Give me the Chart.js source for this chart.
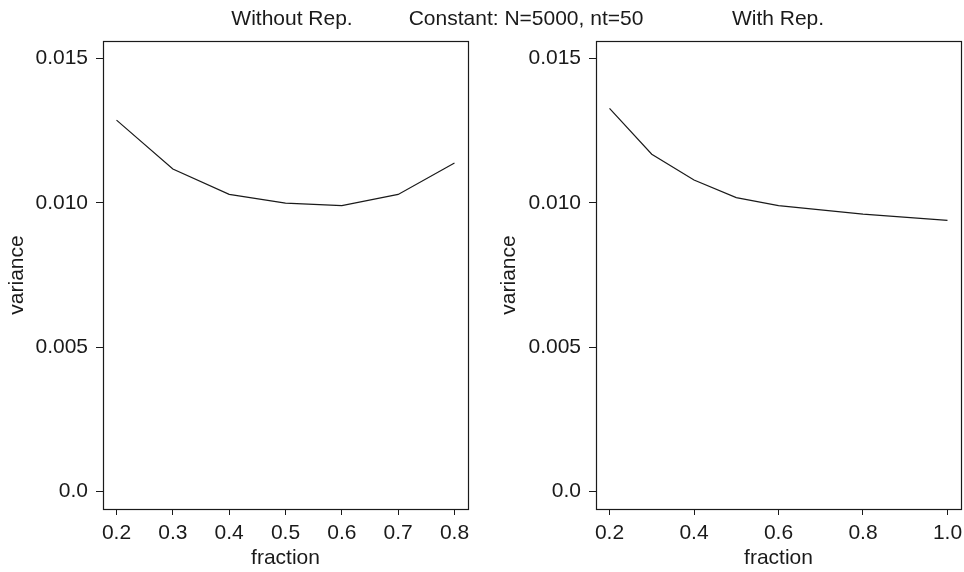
<!DOCTYPE html>
<html>
<head>
<meta charset="utf-8">
<script src="https://cdn.jsdelivr.net/npm/chart.js@4"></script>
<style>
	body { margin: 0; background: #fff; }
	#wrap { position: relative; width: 964px; height: 572px; overflow: hidden; }
	canvas { position: absolute; top: 0; }
	.ttl { position: absolute; top: 4px; font: 21px 'Liberation Sans', Arial, sans-serif; color: #1a1a1a;
		line-height: 28px; white-space: nowrap; transform: translateX(-50%); }
</style>
</head>
<body>
<div id="wrap">
	<canvas id="leftChart" width="482" height="572" style="left:0"></canvas>
	<canvas id="rightChart" width="482" height="572" style="left:482px"></canvas>
	<div class="ttl" style="left:292px">Without Rep.</div>
	<div class="ttl" style="left:526px">Constant: N=5000, nt=50</div>
	<div class="ttl" style="left:778px">With Rep.</div>
</div>
<script>
// 왼쪽 (Without Rep.) 데이터
var leftFraction = [0.2, 0.3, 0.4, 0.5, 0.6, 0.7, 0.8];
var leftVariance = [0.01286, 0.01117, 0.01029, 0.00999, 0.00990, 0.01029, 0.01138];
var leftXTicks = [0.2, 0.3, 0.4, 0.5, 0.6, 0.7, 0.8];
var leftXTickLabels = ['0.2', '0.3', '0.4', '0.5', '0.6', '0.7', '0.8'];

// 오른쪽 (With Rep.) 데이터
var rightFraction = [0.2, 0.3, 0.4, 0.5, 0.6, 0.8, 1.0];
var rightVariance = [0.01327, 0.01168, 0.01079, 0.01018, 0.00990, 0.00961, 0.00939];
var rightXTicks = [0.2, 0.4, 0.6, 0.8, 1.0];
var rightXTickLabels = ['0.2', '0.4', '0.6', '0.8', '1.0'];

// 공통 y축
var yTicks = [0, 0.005, 0.010, 0.015];
var yTickLabels = ['0.0', '0.005', '0.010', '0.015'];

var ink = '#1a1a1a';
Chart.defaults.font.family = "'Liberation Sans', Arial, sans-serif";
Chart.defaults.font.size = 21;
Chart.defaults.color = ink;

// 플롯 영역 테두리 (R 스타일 box)
var boxPlugin = {
	id : 'box',
	afterDraw : function(chart) {
		var a = chart.chartArea;
		var ctx = chart.ctx;
		ctx.save();
		ctx.strokeStyle = ink;
		ctx.lineWidth = 1.2;
		ctx.strokeRect(Math.round(a.left) + 0.5, Math.round(a.top) + 0.5,
				Math.round(a.right - a.left), Math.round(a.bottom - a.top));
		ctx.restore();
	}
};

// R 기본값처럼 범위를 4% 늘림
function padRange(lo, hi) {
	var d = (hi - lo) * 0.04;
	return [lo - d, hi + d];
}

function makeChart(id, xs, ys, xTicks, xLabels, yWidth, rightPad, yTitlePad) {
	var xr = padRange(xTicks[0], xTicks[xTicks.length - 1]);
	var yr = padRange(0, 0.015);
	var points = xs.map(function(x, i) {
		return { x : x, y : ys[i] };
	});

	return new Chart(document.getElementById(id), {
		type : 'line',
		data : {
			datasets : [ {
				data : points,
				borderColor : ink,
				borderWidth : 1.2,
				pointRadius : 0,
				fill : false,
				tension : 0
			} ]
		},
		options : {
			responsive : false,
			animation : false,
			layout : {
				padding : { top : 41, right : rightPad, bottom : 0, left : 0 }
			},
			plugins : {
				legend : { display : false },
				tooltip : { enabled : false }
			},
			scales : {
				x : {
					type : 'linear',
					min : xr[0],
					max : xr[1],
					afterBuildTicks : function(scale) {
						scale.ticks = xTicks.map(function(v) { return { value : v }; });
					},
					afterFit : function(scale) {
						scale.height = 63;
						scale.paddingLeft = 0;
						scale.paddingRight = 0;
					},
					ticks : {
						autoSkip : false,
						maxRotation : 0,
						padding : 6,
						callback : function(v) {
							return xLabels[xTicks.indexOf(v)];
						}
					},
					grid : {
						drawOnChartArea : false,
						tickLength : 6,
						tickColor : ink
					},
					border : { display : false },
					title : {
						display : true,
						text : 'fraction',
						padding : { top : 0, bottom : 1 }
					}
				},
				y : {
					type : 'linear',
					min : yr[0],
					max : yr[1],
					afterBuildTicks : function(scale) {
						scale.ticks = yTicks.map(function(v) { return { value : v }; });
					},
					afterFit : function(scale) {
						scale.width = yWidth;
					},
					ticks : {
						padding : 8,
						callback : function(v) {
							return yTickLabels[yTicks.indexOf(v)];
						}
					},
					grid : {
						drawOnChartArea : false,
						tickLength : 7,
						tickColor : ink
					},
					border : { display : false },
					title : {
						display : true,
						text : 'variance',
						padding : { top : yTitlePad, bottom : 0 }
					}
				}
			}
		},
		plugins : [ boxPlugin ]
	});
}

var leftChart = makeChart('leftChart', leftFraction, leftVariance,
		leftXTicks, leftXTickLabels, 103, 14, 5);
var rightChart = makeChart('rightChart', rightFraction, rightVariance,
		rightXTicks, rightXTickLabels, 114, 3, 15);
</script>
</body>
</html>
